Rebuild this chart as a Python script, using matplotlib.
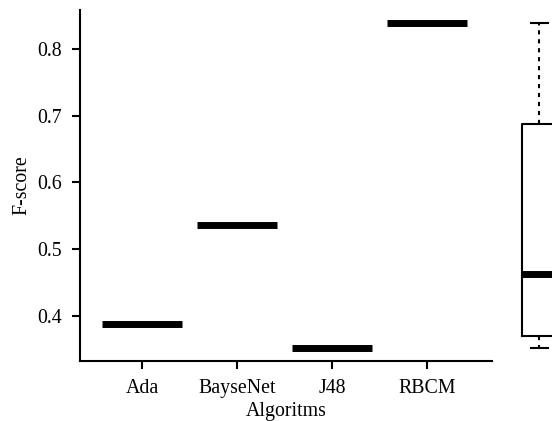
import matplotlib
matplotlib.use("Agg")
import matplotlib.pyplot as plt
import numpy as np

algorithms = ["Ada", "BayseNet", "J48", "RBCM"]
fscore = [0.388, 0.537, 0.3525, 0.839]


def fivenum(vals):
    # Tukey hinges, same as R's boxplot
    x = np.sort(np.asarray(vals, dtype=float))
    n = len(x)
    n4 = np.floor((n + 3) / 2) / 2
    d = np.array([1, n4, (n + 1) / 2, n + 1 - n4, n]) - 1
    return 0.5 * (x[np.floor(d).astype(int)] + x[np.ceil(d).astype(int)])


plt.rcParams['font.family'] = ['Liberation Serif', 'DejaVu Serif']
plt.rcParams['font.size'] = 14.3

fig = plt.figure(figsize=(5.52, 4.21), dpi=100)
W, H = 552, 421
ylim = (0.3325, 0.8585)

# left panel: one box per algorithm (single value -> just the median bar)
ax = fig.add_axes([80 / W, (H - 361) / H, 412 / W, 351 / H])
ax.boxplot([[v] for v in fscore], positions=range(1, 5), widths=0.84,
           medianprops=dict(color="black", linewidth=5, solid_capstyle="butt"),
           boxprops=dict(color="black", linewidth=0),
           whiskerprops=dict(linewidth=0), capprops=dict(linewidth=0),
           showfliers=False)
ax.set_xlim(0.347, 4.68)
ax.set_ylim(*ylim)
ax.set_xticks(range(1, 5))
ax.set_xticklabels(algorithms)
ax.set_yticks([0.4, 0.5, 0.6, 0.7, 0.8])
ax.set_xlabel("Algoritms", labelpad=2.5)
ax.set_ylabel("F-score", labelpad=4)
for s in ["top", "right"]:
    ax.spines[s].set_visible(False)
for s in ["left", "bottom"]:
    ax.spines[s].set_linewidth(1.5)
ax.tick_params(width=1.5, length=5.5, direction="out")
ax.tick_params(axis="y", pad=7.5)
ax.tick_params(axis="x", pad=7.5)

# right panel: overall box, cut by the figure edge
q = fivenum(fscore)
stats = [dict(whislo=q[0], q1=q[1], med=q[2], q3=q[3], whishi=q[4], fliers=[])]
ax2 = fig.add_axes([(539 - 50) / W, (H - 361) / H, 100 / W, 351 / H])
ax2.bxp(stats, positions=[1], widths=0.68, showfliers=False,
        boxprops=dict(color="black", linewidth=1.5),
        medianprops=dict(color="black", linewidth=5, solid_capstyle="butt"),
        whiskerprops=dict(color="black", linewidth=1.5, linestyle=(0, (2, 2.3))),
        capprops=dict(color="black", linewidth=1.5))
ax2.set_xlim(0, 2)
ax2.set_ylim(*ylim)
ax2.axis("off")

fig.savefig("out.png", dpi=100)
